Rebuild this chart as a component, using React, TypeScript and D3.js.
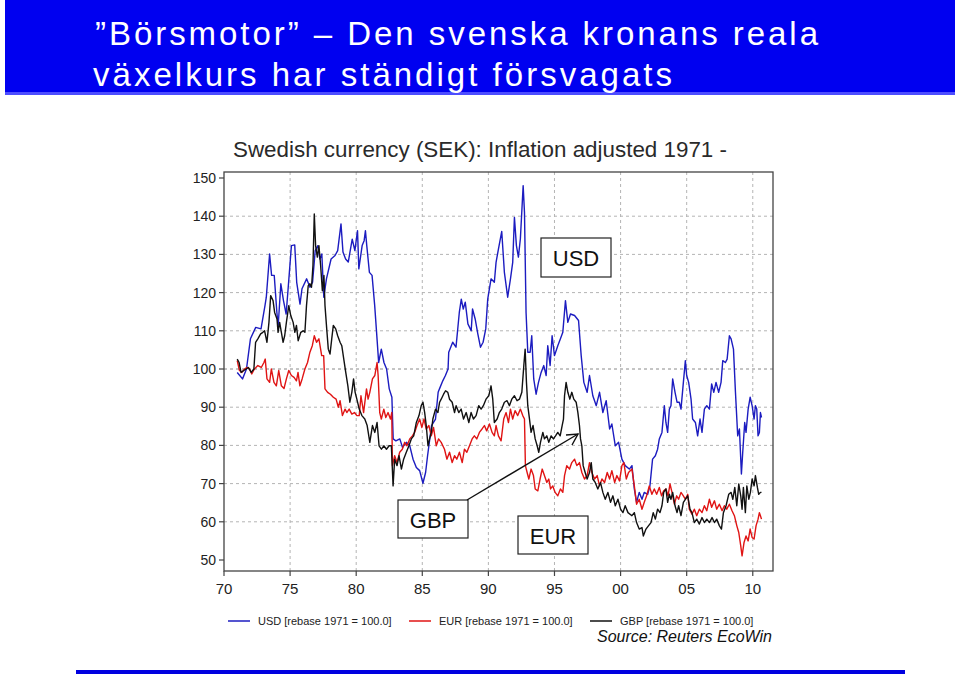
import * as d3 from 'd3';

const usdPoints: [number, number][] = [
  [1971.0, 99.1], [1971.4, 97.4], [1971.7, 100], [1972.0, 107.9], [1972.4, 110.9], [1972.8, 110.5],
  [1973.1, 116.6], [1973.2, 118.8], [1973.45, 130.1], [1973.6, 124.5], [1973.8, 124.5], [1974.0, 114.8],
  [1974.1, 111.4], [1974.3, 122.3], [1974.5, 117.9], [1974.7, 114.4], [1974.85, 121], [1975.1, 132.3],
  [1975.35, 132.5], [1975.5, 122.7], [1975.75, 117], [1975.9, 121], [1976.25, 123.6], [1976.5, 121.4],
  [1976.7, 122.7], [1976.9, 131], [1977.1, 132.3], [1977.25, 128.8], [1977.4, 130.1], [1977.55, 118.8],
  [1977.75, 123.6], [1978.1, 128.8], [1978.4, 129.7], [1978.6, 131], [1978.85, 138], [1979.0, 130.6],
  [1979.2, 128.8], [1979.4, 128], [1979.7, 134], [1979.9, 131], [1980.1, 136.2], [1980.2, 126.2],
  [1980.45, 132.3], [1980.6, 133.6], [1980.7, 136.2], [1980.8, 132.3], [1981.0, 125.3], [1981.2, 124.5],
  [1981.4, 116.6], [1981.55, 109.2], [1981.7, 101.7], [1981.9, 105.2], [1982.1, 101.7], [1982.3, 100],
  [1982.5, 94.8], [1982.7, 92.6], [1982.8, 81.7], [1983.0, 81.2], [1983.3, 81.7], [1983.5, 79.5],
  [1983.8, 80.8], [1984.05, 79.9], [1984.3, 76.4], [1984.55, 74.2], [1984.8, 73.4], [1985.05, 70.1],
  [1985.25, 72.9], [1985.4, 77.3], [1985.7, 85.2], [1986.0, 86.9], [1986.2, 93.9], [1986.3, 94.8],
  [1986.55, 96.9], [1986.75, 98.3], [1986.95, 100], [1987.0, 104.4], [1987.3, 107], [1987.55, 105.7],
  [1987.8, 114.8], [1987.95, 118.3], [1988.1, 115.7], [1988.25, 117.5], [1988.45, 111.8], [1988.7, 110],
  [1988.8, 115.7], [1989.0, 113.1], [1989.2, 109.2], [1989.4, 105.7], [1989.6, 107], [1989.8, 110.5],
  [1989.95, 118.3], [1990.2, 123.6], [1990.45, 122.7], [1990.58, 127.9], [1990.76, 131.4], [1991.01, 136],
  [1991.21, 125.3], [1991.46, 118.8], [1991.67, 123.6], [1991.84, 127.9], [1991.97, 139.7], [1992.12, 132.3],
  [1992.27, 129.3], [1992.42, 134.1], [1992.63, 148], [1992.73, 141], [1992.85, 114.8], [1992.98, 104.4],
  [1993.16, 104.4], [1993.28, 108.7], [1993.43, 97.4], [1993.61, 93.4], [1993.79, 96.5], [1993.99, 99.1],
  [1994.19, 100.9], [1994.37, 98.3], [1994.49, 106.1], [1994.67, 100.9], [1994.82, 108.7], [1995.0, 103.5],
  [1995.25, 106.1], [1995.45, 107.9], [1995.63, 109.6], [1995.83, 117.9], [1996.01, 112.2], [1996.21, 114.4],
  [1996.52, 114], [1996.82, 112.7], [1997.02, 103.5], [1997.22, 96.5], [1997.47, 93.9], [1997.65, 98.3],
  [1997.9, 93], [1998.16, 90.4], [1998.41, 93.9], [1998.66, 88.6], [1998.91, 91.7], [1999.17, 84.3],
  [1999.34, 85.6], [1999.6, 79.9], [1999.85, 80.8], [2000.1, 76.4], [2000.35, 74.7], [2000.66, 73.8],
  [2000.86, 74.7], [2001.04, 68.6], [2001.21, 65.1], [2001.41, 67.7], [2001.62, 65.9], [2001.79, 67.7],
  [2002.05, 67.2], [2002.22, 69.4], [2002.42, 76.4], [2002.63, 77.3], [2002.8, 79], [2002.93, 81.7],
  [2003.13, 83.4], [2003.31, 90.4], [2003.43, 86], [2003.56, 83.4], [2003.69, 89.5], [2003.81, 90.4],
  [2003.94, 97.4], [2004.12, 93.9], [2004.27, 91.3], [2004.44, 91.3], [2004.57, 89.5], [2004.75, 96.5],
  [2004.9, 102.2], [2005.0, 98.3], [2005.15, 96.5], [2005.33, 92.1], [2005.45, 86.9], [2005.66, 86],
  [2005.83, 82.5], [2006.01, 86.9], [2006.16, 83.4], [2006.34, 89.5], [2006.52, 90.4], [2006.72, 89.5],
  [2006.89, 96.1], [2007.05, 93.9], [2007.22, 96.5], [2007.42, 93.9], [2007.6, 96.5], [2007.73, 102.2],
  [2007.93, 101.7], [2008.06, 102.6], [2008.23, 108.7], [2008.36, 107.9], [2008.54, 105.2], [2008.69, 93.9],
  [2008.86, 82.5], [2008.99, 84.3], [2009.14, 72.5], [2009.24, 78.2], [2009.39, 86], [2009.49, 83.4],
  [2009.65, 89.5], [2009.8, 92.6], [2009.95, 90.4], [2010.1, 86.9], [2010.2, 90.4], [2010.3, 89.5],
  [2010.4, 82.5], [2010.5, 83.4], [2010.58, 88.6], [2010.66, 87.3],
];

const eurPoints: [number, number][] = [
  [1971.0, 102.2], [1971.17, 99.6], [1971.35, 99.1], [1971.55, 100], [1971.75, 100.4], [1971.93, 100],
  [1972.1, 98.7], [1972.3, 100], [1972.56, 100.9], [1972.82, 100.4], [1973.02, 101.7], [1973.12, 102.6],
  [1973.25, 97.4], [1973.45, 96.5], [1973.58, 100], [1973.78, 96.5], [1973.96, 95.6], [1974.14, 99.6],
  [1974.34, 95.6], [1974.54, 94.9], [1974.72, 97.4], [1974.9, 99.6], [1975.1, 98.3], [1975.3, 97.8],
  [1975.48, 96.9], [1975.6, 99.1], [1975.74, 95.6], [1975.91, 97.4], [1976.12, 100], [1976.32, 101.7],
  [1976.5, 104.4], [1976.68, 106.1], [1976.83, 108.7], [1977.0, 107], [1977.18, 107.9], [1977.39, 103.5],
  [1977.54, 103.5], [1977.64, 94.8], [1977.84, 93.9], [1978.05, 93.4], [1978.27, 92.6], [1978.48, 92.1],
  [1978.65, 90], [1978.78, 91.7], [1978.96, 87.8], [1979.16, 89.5], [1979.29, 88.6], [1979.47, 89.5],
  [1979.67, 88.2], [1979.87, 88.6], [1980.05, 87.8], [1980.23, 87.8], [1980.36, 93], [1980.56, 88.6],
  [1980.78, 94.8], [1980.9, 92.1], [1981.03, 93.9], [1981.23, 97.4], [1981.41, 98.3], [1981.58, 101.7],
  [1981.66, 98.3], [1981.78, 88.6], [1981.9, 86.9], [1982.09, 89.5], [1982.24, 87.3], [1982.41, 88.6],
  [1982.59, 86.9], [1982.69, 88.6], [1982.74, 74.7], [1982.91, 77.3], [1983.09, 75.5], [1983.29, 78.2],
  [1983.49, 79], [1983.67, 80.8], [1983.84, 79.9], [1984.05, 81.7], [1984.25, 82.5], [1984.42, 83.4],
  [1984.6, 85.2], [1984.8, 86.9], [1984.97, 84.7], [1985.13, 86.9], [1985.3, 84.3], [1985.5, 85.2],
  [1985.68, 82.5], [1985.85, 84.7], [1986.06, 79.9], [1986.23, 81.7], [1986.43, 80.8], [1986.68, 79],
  [1986.86, 76.4], [1987.06, 78.2], [1987.26, 75.5], [1987.44, 77.3], [1987.61, 76.4], [1987.81, 78.2],
  [1988.02, 75.5], [1988.19, 79], [1988.37, 78.2], [1988.57, 79.9], [1988.77, 81.7], [1988.94, 82.5],
  [1989.12, 81.7], [1989.32, 83.4], [1989.52, 84.3], [1989.7, 85.2], [1989.87, 83.8], [1990.08, 85.6],
  [1990.28, 83.4], [1990.45, 82.5], [1990.58, 85.2], [1990.76, 82.5], [1990.96, 81.2], [1991.16, 86.9],
  [1991.34, 88.6], [1991.52, 86], [1991.67, 89.5], [1991.84, 86.9], [1992.02, 89.1], [1992.22, 87.8],
  [1992.42, 89.5], [1992.6, 87.8], [1992.73, 86.9], [1992.8, 74.7], [1992.93, 72.9], [1993.06, 71.2],
  [1993.23, 73.8], [1993.41, 72.1], [1993.54, 68.6], [1993.74, 68.1], [1993.91, 71.2], [1994.07, 73.8],
  [1994.24, 72.1], [1994.42, 70.3], [1994.57, 71.2], [1994.7, 68.6], [1994.87, 69.4], [1995.05, 67.7],
  [1995.25, 66.8], [1995.45, 68.6], [1995.63, 67.7], [1995.76, 72.1], [1995.93, 74.7], [1996.14, 73.8],
  [1996.31, 75.5], [1996.52, 76.4], [1996.69, 74.7], [1996.89, 75.5], [1997.07, 72.9], [1997.27, 71.2],
  [1997.47, 72.1], [1997.65, 75.5], [1997.83, 72.9], [1998.03, 71.2], [1998.23, 72.1], [1998.41, 69.4],
  [1998.59, 71.2], [1998.79, 70.3], [1998.99, 72.9], [1999.17, 71.2], [1999.34, 73.4], [1999.55, 70.3],
  [1999.72, 72.1], [1999.92, 70.7], [2000.1, 74.7], [2000.25, 75.5], [2000.43, 71.2], [2000.6, 72.9],
  [2000.86, 73.8], [2001.04, 69.4], [2001.21, 64.6], [2001.41, 65.9], [2001.62, 63.3], [2001.79, 65.1],
  [2001.97, 66.8], [2002.17, 69.4], [2002.37, 67.2], [2002.55, 68.6], [2002.73, 67.2], [2002.93, 69],
  [2003.1, 66.8], [2003.26, 68.1], [2003.43, 68.6], [2003.59, 66.8], [2003.74, 69.9], [2003.89, 67.7],
  [2004.07, 64.6], [2004.24, 66.8], [2004.39, 65.9], [2004.57, 67.7], [2004.75, 66.8], [2004.9, 65.9],
  [2005.08, 67.2], [2005.2, 63.3], [2005.4, 62], [2005.58, 63.3], [2005.76, 61.6], [2005.96, 63.3],
  [2006.16, 62.4], [2006.34, 64.2], [2006.52, 62.9], [2006.72, 65.9], [2006.89, 63.8], [2007.1, 65.5],
  [2007.27, 63.3], [2007.47, 64.6], [2007.68, 62.9], [2007.85, 64.2], [2008.03, 63.3], [2008.23, 64.6],
  [2008.43, 62.9], [2008.61, 61.6], [2008.79, 59], [2008.94, 57.2], [2009.09, 53.7], [2009.19, 51.1],
  [2009.34, 54.6], [2009.49, 56.3], [2009.65, 55], [2009.8, 58.1], [2009.95, 55.9], [2010.1, 55.5],
  [2010.25, 59], [2010.4, 60.7], [2010.5, 62.4], [2010.58, 61.6], [2010.66, 60.7],
];

const gbpPoints: [number, number][] = [
  [1971.0, 102.6], [1971.14, 101.7], [1971.29, 99.1], [1971.5, 99.6], [1971.68, 100], [1971.85, 100.4],
  [1972.06, 99.1], [1972.26, 100], [1972.39, 107], [1972.56, 107.9], [1972.77, 109.2], [1972.94, 109.6],
  [1973.07, 110], [1973.25, 107], [1973.4, 112.2], [1973.53, 119.2], [1973.71, 117.9], [1973.83, 114.8],
  [1974.01, 113.1], [1974.09, 109.6], [1974.21, 112.2], [1974.34, 109.6], [1974.47, 107], [1974.59, 108.7],
  [1974.72, 112.2], [1974.9, 116.6], [1975.05, 114], [1975.23, 112.2], [1975.36, 109.6], [1975.48, 111.4],
  [1975.61, 107.4], [1975.81, 109.6], [1975.99, 110], [1976.12, 109.6], [1976.24, 116.6], [1976.37, 121.8],
  [1976.5, 122.3], [1976.62, 121.4], [1976.73, 127.1], [1976.83, 140.6], [1976.93, 132.3], [1977.06, 129.3],
  [1977.18, 132.3], [1977.31, 127.1], [1977.44, 120.5], [1977.56, 124.5], [1977.64, 116.6], [1977.77, 110.5],
  [1977.89, 105.2], [1978.02, 103.9], [1978.15, 107.9], [1978.27, 111.4], [1978.45, 110.5], [1978.6, 108.7],
  [1978.78, 107], [1978.91, 106.1], [1979.06, 102.6], [1979.21, 99.1], [1979.37, 95.6], [1979.52, 91.3],
  [1979.67, 93.9], [1979.8, 97.4], [1979.92, 93.9], [1980.05, 92.1], [1980.23, 89.5], [1980.43, 87.8],
  [1980.65, 86.9], [1980.83, 85.2], [1981.03, 80.8], [1981.23, 85.2], [1981.41, 83.4], [1981.58, 86],
  [1981.73, 79.9], [1981.91, 79], [1982.09, 79.9], [1982.29, 79], [1982.49, 79.9], [1982.66, 79.9],
  [1982.79, 69.4], [1982.91, 76.4], [1983.09, 74.7], [1983.24, 77.3], [1983.42, 73.8], [1983.59, 76.4],
  [1983.79, 78.2], [1983.99, 79.9], [1984.17, 81.7], [1984.35, 82.5], [1984.55, 86], [1984.75, 87.8],
  [1984.92, 90.4], [1985.05, 91.3], [1985.18, 88.6], [1985.3, 85.2], [1985.43, 79.9], [1985.55, 81.7],
  [1985.68, 83.4], [1985.8, 86.9], [1986.0, 89.5], [1986.18, 88.6], [1986.31, 91.3], [1986.43, 92.1],
  [1986.61, 93.4], [1986.76, 94.3], [1986.93, 93.9], [1987.06, 92.1], [1987.26, 91.3], [1987.44, 88.6],
  [1987.56, 90.4], [1987.76, 88.6], [1987.94, 89.5], [1988.12, 86.9], [1988.32, 88.6], [1988.52, 86],
  [1988.69, 88.6], [1988.87, 86.9], [1989.07, 87.8], [1989.27, 90.4], [1989.45, 89.5], [1989.62, 90.4],
  [1989.82, 92.1], [1990.03, 93], [1990.2, 95.6], [1990.33, 92.1], [1990.45, 86], [1990.66, 86.9],
  [1990.83, 88.6], [1991.01, 89.5], [1991.21, 91.3], [1991.41, 91.7], [1991.59, 90.4], [1991.77, 92.1],
  [1991.97, 93], [1992.17, 91.7], [1992.35, 92.1], [1992.53, 93.9], [1992.68, 100.9], [1992.78, 105.2],
  [1992.88, 96.5], [1992.98, 90.4], [1993.11, 86.9], [1993.23, 83.4], [1993.38, 85.2], [1993.54, 81.7],
  [1993.69, 79.9], [1993.81, 78.2], [1993.94, 80.8], [1994.12, 83.4], [1994.24, 81.7], [1994.42, 82.5],
  [1994.57, 80.8], [1994.75, 82.5], [1994.92, 81.7], [1995.08, 82.5], [1995.25, 83.4], [1995.43, 82.5],
  [1995.58, 85.2], [1995.68, 86.9], [1995.76, 93], [1995.88, 96.5], [1996.01, 93.9], [1996.16, 92.1],
  [1996.31, 93.9], [1996.46, 92.1], [1996.64, 91.3], [1996.77, 88.6], [1996.89, 85.2], [1996.97, 81.7],
  [1997.07, 79.9], [1997.17, 74.7], [1997.32, 72.9], [1997.47, 71.2], [1997.65, 72.9], [1997.78, 75.5],
  [1997.9, 71.2], [1998.08, 70.3], [1998.28, 68.6], [1998.48, 70.3], [1998.66, 67.7], [1998.84, 65.9],
  [1999.04, 67.7], [1999.24, 65.1], [1999.42, 66.8], [1999.6, 64.2], [1999.8, 65.9], [2000.0, 63.3],
  [2000.18, 62.4], [2000.35, 64.2], [2000.56, 62.4], [2000.86, 61.6], [2001.04, 62.4], [2001.21, 59.8],
  [2001.41, 58.1], [2001.62, 58.5], [2001.72, 56.3], [2001.92, 58.1], [2002.12, 59], [2002.3, 59.8],
  [2002.47, 62.4], [2002.63, 60.7], [2002.8, 63.3], [2002.98, 62.4], [2003.13, 64.2], [2003.26, 67.7],
  [2003.43, 68.6], [2003.56, 65.1], [2003.69, 67.2], [2003.81, 65.9], [2003.94, 67.7], [2004.12, 64.2],
  [2004.27, 62.4], [2004.39, 64.2], [2004.57, 61.6], [2004.75, 65.1], [2004.9, 65.9], [2005.08, 66.8],
  [2005.25, 63.3], [2005.4, 62.4], [2005.58, 59.8], [2005.76, 60.7], [2005.96, 59.4], [2006.16, 61.1],
  [2006.34, 59.8], [2006.52, 60.7], [2006.72, 59.8], [2006.92, 61.1], [2007.1, 59.8], [2007.27, 60.7],
  [2007.47, 59], [2007.63, 58.1], [2007.78, 62.4], [2007.98, 64.2], [2008.18, 67.2], [2008.36, 67.7],
  [2008.49, 65.9], [2008.64, 69], [2008.79, 64.2], [2008.94, 69.9], [2009.09, 66.8], [2009.19, 63.3],
  [2009.29, 69], [2009.44, 62.4], [2009.55, 69.4], [2009.7, 65.9], [2009.82, 67.7], [2009.95, 71.2],
  [2010.1, 69.4], [2010.2, 72.1], [2010.35, 69], [2010.45, 67.2], [2010.58, 67.7], [2010.66, 67.7],
];

const yTicks = [50, 60, 70, 80, 90, 100, 110, 120, 130, 140, 150];
const xTicks = [1970, 1975, 1980, 1985, 1990, 1995, 2000, 2005, 2010];
const xTickLabels = ['70', '75', '80', '85', '90', '95', '00', '05', '10'];
const seriesNames = ['USD [rebase 1971 = 100.0]', 'EUR [rebase 1971 = 100.0]', 'GBP [rebase 1971 = 100.0]'];
const seriesColors = ['#1c1cc0', '#e01414', '#111111'];

const font = '"Liberation Sans", Arial, Helvetica, sans-serif';

const App = () => {
  const width = 960;
  const height = 676;
  const plot = { left: 224, right: 773, top: 172, bottom: 571 };

  const x = d3.scaleLinear().domain([1970, 2011.53]).range([plot.left, plot.right]);
  const y = d3.scaleLinear().domain([50, 150]).range([560, 178]);

  const line = d3.line<[number, number]>()
    .x((d) => x(d[0]))
    .y((d) => y(d[1]));

  const series = [usdPoints, eurPoints, gbpPoints];
  const legendX = [228, 409, 590];

  return (
    <svg width={width} height={height} style={{ position: 'absolute', left: 0, top: 0, background: '#fff' }}>
      {/* title banner */}
      <rect x={5} y={0} width={950} height={95} fill="#0000f0" />
      <rect x={5} y={92} width={950} height={3} fill="#4d4dff" />
      <text x={95} y={45} fill="#fff" fontFamily={font} fontSize={33} textLength={723} lengthAdjust="spacing">
        ”Börsmotor” – Den svenska kronans reala
      </text>
      <text x={93} y={86} fill="#fff" fontFamily={font} fontSize={33} textLength={579} lengthAdjust="spacing">
        växelkurs har ständigt försvagats
      </text>

      {/* chart title */}
      <text x={233} y={157} fill="#2a2a2a" fontFamily={font} fontSize={22} textLength={494} lengthAdjust="spacingAndGlyphs">
        Swedish currency (SEK): Inflation adjusted 1971 -
      </text>

      {/* grid */}
      {yTicks.filter((t) => t > 50 && t < 150).map((t) => (
        <line key={'gy' + t} x1={plot.left} x2={plot.right} y1={y(t)} y2={y(t)}
          stroke={t === 100 ? '#8a8a8a' : '#b4b4b4'} strokeWidth={1} strokeDasharray="3,3" />
      ))}
      {xTicks.filter((t) => t > 1970).map((t) => (
        <line key={'gx' + t} x1={x(t)} x2={x(t)} y1={plot.top} y2={plot.bottom}
          stroke="#b4b4b4" strokeWidth={1} strokeDasharray="3,3" />
      ))}

      {/* series */}
      {series.map((s, i) => (
        <path key={'s' + i} d={line(s) || ''} fill="none" stroke={seriesColors[i]} strokeWidth={1.4} strokeLinejoin="round" />
      ))}

      {/* frame */}
      <rect x={plot.left} y={plot.top} width={plot.right - plot.left} height={plot.bottom - plot.top}
        fill="none" stroke="#444" strokeWidth={1.3} />

      {/* y axis */}
      {yTicks.map((t) => (
        <g key={'yt' + t}>
          <line x1={plot.left - 5} x2={plot.left} y1={y(t)} y2={y(t)} stroke="#444" strokeWidth={1.2} />
          <text x={plot.left - 8} y={y(t) + 5} textAnchor="end" fontFamily={font} fontSize={14} fill="#222">{t}</text>
        </g>
      ))}

      {/* x axis */}
      {xTicks.map((t, i) => (
        <g key={'xt' + t}>
          <line x1={x(t)} x2={x(t)} y1={plot.bottom} y2={plot.bottom + 5} stroke="#444" strokeWidth={1.2} />
          <text x={x(t)} y={594} textAnchor="middle" fontFamily={font} fontSize={15} fill="#222">{xTickLabels[i]}</text>
        </g>
      ))}

      {/* annotations */}
      <rect x={541} y={238} width={70} height={39} fill="#fff" stroke="#222" strokeWidth={1.2} />
      <text x={576} y={266} textAnchor="middle" fontFamily={font} fontSize={22} fill="#111">USD</text>
      <rect x={398} y={500} width={70} height={38} fill="#fff" stroke="#222" strokeWidth={1.2} />
      <text x={433} y={528} textAnchor="middle" fontFamily={font} fontSize={22} fill="#111">GBP</text>
      <rect x={518} y={516} width={70} height={38} fill="#fff" stroke="#222" strokeWidth={1.2} />
      <text x={553} y={544} textAnchor="middle" fontFamily={font} fontSize={22} fill="#111">EUR</text>
      <line x1={467} y1={500} x2={578} y2={434} stroke="#111" strokeWidth={1.4} />
      <polyline points="566,435 578,434 572,445" fill="none" stroke="#111" strokeWidth={1.4} />

      {/* legend */}
      {seriesNames.map((name, i) => (
        <g key={'lg' + i}>
          <line x1={legendX[i]} x2={legendX[i] + 22} y1={621} y2={621} stroke={seriesColors[i]} strokeWidth={1.5} />
          <text x={legendX[i] + 30} y={625} fontFamily={font} fontSize={11} fill="#222">{name}</text>
        </g>
      ))}
      <text x={772} y={642} textAnchor="end" fontFamily={font} fontSize={16} fontStyle="italic" fill="#111">
        Source: Reuters EcoWin
      </text>

      {/* bottom rule */}
      <rect x={76} y={670} width={829} height={4} fill="#0000e0" />
    </svg>
  );
};

export default App;
